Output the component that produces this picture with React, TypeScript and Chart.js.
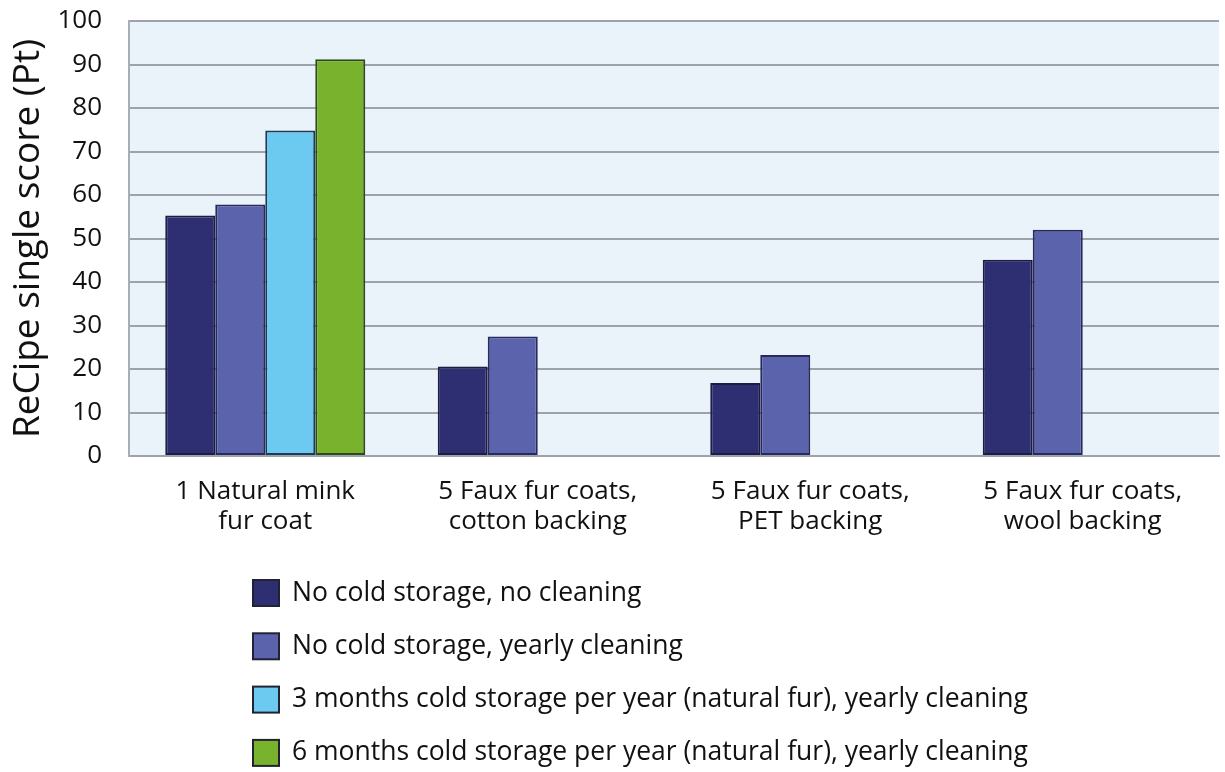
import React, { useEffect, useRef } from "react";
import { Chart, registerables } from "chart.js";

Chart.register(...registerables);

const categories: string[][] = [
  ["1 Natural mink", "fur coat"],
  ["5 Faux fur coats,", "cotton backing"],
  ["5 Faux fur coats,", "PET backing"],
  ["5 Faux fur coats,", "wool backing"],
];

const seriesLabels = [
  "No cold storage, no cleaning",
  "No cold storage, yearly cleaning",
  "3 months cold storage per year (natural fur), yearly cleaning",
  "6 months cold storage per year (natural fur), yearly cleaning",
];

const noColdNoCleaning: (number | null)[] = [55.3, 20.6, 16.8, 45.1];
const noColdYearlyCleaning: (number | null)[] = [57.8, 27.5, 23.2, 52.0];
const cold3Months: (number | null)[] = [74.8, null, null, null];
const cold6Months: (number | null)[] = [91.2, null, null, null];

const fillColors = ["#2d2f72", "#5b63ad", "#6cc9ef", "#79b32d"];
const borderColors = ["#1b1d45", "#262a5c", "#1d3a55", "#2c4a1c"];

const yTitle = "ReCipe single score (Pt)";
const FONT = "'Open Sans', 'Noto Sans', sans-serif";

export default function App() {
  const ref = useRef<HTMLCanvasElement | null>(null);

  useEffect(() => {
    if (!ref.current) return;
    const seriesData = [noColdNoCleaning, noColdYearlyCleaning, cold3Months, cold6Months];

    const bgPlugin = {
      id: "plotBg",
      beforeDraw(chart: any) {
        const { ctx, chartArea } = chart;
        ctx.save();
        ctx.fillStyle = "#eaf2fa";
        ctx.fillRect(chartArea.left, chartArea.top, chartArea.right - chartArea.left, chartArea.bottom - chartArea.top);
        ctx.restore();
      },
    };

    const legendPlugin = {
      id: "vertLegend",
      afterDraw(chart: any) {
        const { ctx } = chart;
        const x0 = 253;
        const box = 26;
        const startY = 593;
        const step = 53.3;
        ctx.save();
        chart.data.datasets.forEach((ds: any, i: number) => {
          const cy = startY + i * step;
          ctx.fillStyle = ds.backgroundColor;
          ctx.fillRect(x0, cy - box / 2, box, box);
          ctx.lineWidth = 2;
          ctx.strokeStyle = "#222233";
          ctx.strokeRect(x0, cy - box / 2, box, box);
          ctx.fillStyle = "#111111";
          ctx.font = `26.5px ${FONT}`;
          ctx.textBaseline = "middle";
          ctx.textAlign = "left";
          ctx.fillText(ds.label, x0 + box + 13, cy);
        });
        ctx.restore();
      },
    };

    const chart = new Chart(ref.current, {
      type: "bar",
      data: {
        labels: categories,
        datasets: seriesData.map((d, i) => ({
          label: seriesLabels[i],
          data: d,
          backgroundColor: fillColors[i],
          borderColor: borderColors[i],
          borderWidth: 2,
          borderSkipped: false,
          categoryPercentage: 0.734,
          barPercentage: 1,
        })),
      },
      options: {
        animation: false,
        responsive: false,
        layout: { padding: { top: 21, right: 6, bottom: 216, left: 0 } },
        plugins: {
          legend: { display: false },
          tooltip: { enabled: false },
        },
        scales: {
          x: {
            grid: { display: false, drawTicks: false },
            border: { display: true, color: "#9ea3aa", width: 2 },
            ticks: {
              color: "#111111",
              font: { family: FONT, size: 26, lineHeight: 1.17 },
              padding: 20,
              maxRotation: 0,
              autoSkip: false,
            },
            afterFit: (s: any) => {
              s.height = 100;
            },
          },
          y: {
            min: 0,
            max: 100,
            ticks: {
              stepSize: 10,
              color: "#111111",
              font: { family: FONT, size: 26 },
              padding: 27,
            },
            grid: { color: "#9ea3aa", lineWidth: 2, drawTicks: false },
            border: { display: true, color: "#a9aeb5", width: 2 },
            title: {
              display: true,
              text: yTitle,
              color: "#111111",
              font: { family: FONT, size: 37 },
              padding: { top: 6, bottom: 0 },
            },
            afterFit: (s: any) => {
              s.width = 129;
              s.paddingTop = 0;
              s.paddingBottom = 0;
            },
          },
        },
      },
      plugins: [bgPlugin, legendPlugin],
    });
    return () => chart.destroy();
  }, []);

  return (
    <div style={{ position: "absolute", left: 0, top: 0, width: 1225, height: 772, background: "#ffffff" }}>
      <canvas ref={ref} width={1225} height={772} />
    </div>
  );
}
